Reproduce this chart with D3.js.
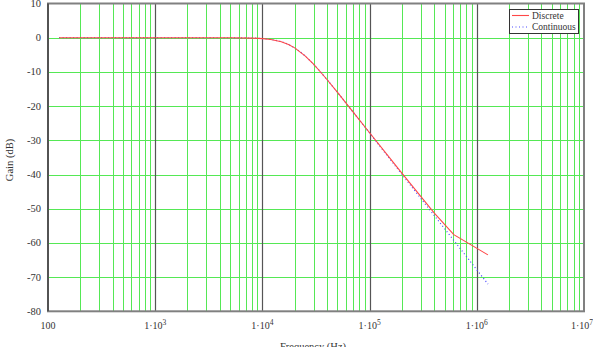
<!DOCTYPE html>
<html><head><meta charset="utf-8">
<script src="https://cdn.jsdelivr.net/npm/d3@7"></script>
<style>body{margin:0;background:#fff}svg{display:block}</style>
</head><body>
<svg id="c" width="593" height="347"></svg>
<script>
const freqCont = [127,200,500,1000,2000,5000,8000,10000,12000,15000,20000,25000,30000,40000,50000,70000,100000,150000,200000,300000,400000,600000,1000000,1270000];
const gainCont = [0,0,0,0,0,-0.02,-0.11,-0.26,-0.52,-1.17,-2.97,-5.31,-7.75,-12.22,-15.94,-21.71,-27.87,-34.92,-39.91,-46.96,-51.95,-59.0,-67.87,-72.02];
const freqDisc = [127,200,500,1000,2000,5000,8000,10000,12000,15000,17500,20000,25000,30000,35000,40000,50000,70000,100000,150000,200000,300000,400000,610000,1270000];
const gainDisc = [0,0,0,0,0,-0.02,-0.11,-0.26,-0.52,-1.17,-2.0,-2.97,-5.31,-7.75,-10.1,-12.22,-15.94,-21.71,-27.8,-34.7,-39.6,-46.4,-51.2,-57.6,-63.5];
const yTicks = [10,0,-10,-20,-30,-40,-50,-60,-70,-80];
const xDecades = [100,1e3,1e4,1e5,1e6,1e7];
const xExp = [null,3,4,5,6,7];
const seriesNames = ["Discrete","Continuous"];

const svg = d3.select("#c");
const x = d3.scaleLog().domain([100,1e7]).range([48,584]);
const y = d3.scaleLinear().domain([-80,10]).range([311.3,3.5]);
const font = "'Liberation Serif','Times New Roman',serif";

const minors = [];
for (let d = 100; d < 1e7; d *= 10) for (let k = 2; k <= 9; k++) minors.push(d*k);
svg.append("g").selectAll("line").data(minors).join("line")
  .attr("x1",d=>Math.round(x(d))+0.5).attr("x2",d=>Math.round(x(d))+0.5)
  .attr("y1",y(10)).attr("y2",y(-80))
  .attr("stroke","#55e855").attr("stroke-width",1);
svg.append("g").selectAll("line").data(yTicks.filter(v=>v<10&&v>-80)).join("line")
  .attr("x1",x(100)).attr("x2",x(1e7))
  .attr("y1",d=>Math.round(y(d))+0.5).attr("y2",d=>Math.round(y(d))+0.5)
  .attr("stroke","#55e855").attr("stroke-width",1.2);
svg.append("g").selectAll("line").data(xDecades.slice(1,-1)).join("line")
  .attr("x1",d=>Math.round(x(d))+0.5).attr("x2",d=>Math.round(x(d))+0.5)
  .attr("y1",y(10)).attr("y2",y(-80))
  .attr("stroke","#555").attr("stroke-width",1.2);
svg.append("rect").attr("x",x(100)).attr("y",y(10)).attr("width",x(1e7)-x(100)).attr("height",y(-80)-y(10))
  .attr("fill","none").attr("stroke","#808080").attr("stroke-width",2);
svg.append("line").attr("x1",x(100)).attr("x2",x(100)).attr("y1",y(10)).attr("y2",y(-80)).attr("stroke","#444").attr("stroke-width",1.5);

const lineC = d3.line().x((d,i)=>x(freqCont[i])).y(d=>y(d)).curve(d3.curveMonotoneX);
const lineD = d3.line().x((d,i)=>x(freqDisc[i])).y(d=>y(d));
svg.append("path").attr("d",lineC(gainCont)).attr("fill","none").attr("stroke","#4a4aff").attr("stroke-width",1.2).attr("stroke-dasharray","1,2.5");
svg.append("path").attr("d",lineD(gainDisc)).attr("fill","none").attr("stroke","#ff4848").attr("stroke-width",1.1);

svg.append("g").selectAll("text").data(yTicks).join("text")
  .attr("x",41).attr("y",d=>y(d)+3.5).attr("text-anchor","end")
  .attr("font-family",font).attr("font-size",10.5).attr("fill","#333")
  .text(d=>d<0?"-"+(-d):d);
const xl = svg.append("g").selectAll("text").data(xDecades).join("text")
  .attr("x",(d,i)=>x(d) - (i===5?2:0)).attr("y",329).attr("text-anchor","middle")
  .attr("font-family",font).attr("font-size",10).attr("fill","#333");
xl.each(function(d,i){
  const t = d3.select(this);
  if (xExp[i]===null){ t.text("100"); return; }
  t.append("tspan").text("1\u00b710");
  t.append("tspan").attr("dy",-4).attr("font-size",7.5).text(xExp[i]);
});
svg.append("text").attr("x",313).attr("y",350).attr("text-anchor","middle")
  .attr("font-family",font).attr("font-size",10.5).attr("fill","#333").text("Frequency (Hz)");
svg.append("text").attr("transform","translate(13,160) rotate(-90)").attr("text-anchor","middle")
  .attr("font-family",font).attr("font-size",10.5).attr("fill","#333").text("Gain (dB)");

const lg = svg.append("g");
lg.append("rect").attr("x",509.5).attr("y",9.5).attr("width",69).attr("height",24).attr("fill","#fff").attr("stroke","#333").attr("stroke-width",1);
lg.append("line").attr("x1",512).attr("x2",529).attr("y1",15.5).attr("y2",15.5).attr("stroke","#ff4848").attr("stroke-width",1.1);
lg.append("line").attr("x1",512).attr("x2",529).attr("y1",27).attr("y2",27).attr("stroke","#4a4aff").attr("stroke-width",1.2).attr("stroke-dasharray","1,2.5");
lg.selectAll("text").data(seriesNames).join("text")
  .attr("x",532).attr("y",(d,i)=>18.5+i*11)
  .attr("font-family",font).attr("font-size",9.5).attr("fill","#333").text(d=>d);
</script>
</body></html>
